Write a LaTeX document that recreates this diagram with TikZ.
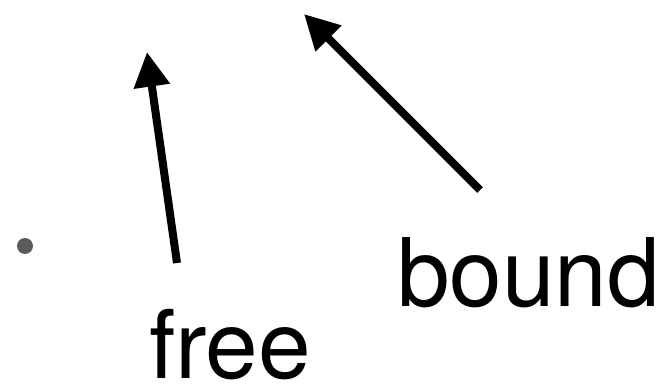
\documentclass[tikz,border=0pt]{standalone}
\usepackage{fontspec}
\setmainfont{TeX Gyre Heros}
\usetikzlibrary{arrows.meta}
\definecolor{bulletgray}{HTML}{5A5A5A}
\tikzset{
  label/.style={inner sep=0pt, outer sep=0pt, anchor=base west, font=\fontsize{71}{85}\selectfont},
  bigarrow/.style={line width=6pt, -{Triangle[length=26pt,width=26pt]}},
  dot/.style={circle, fill=bulletgray, draw=none, minimum size=12pt, inner sep=0pt}
}
\begin{document}
\begin{tikzpicture}[x=0.75pt, y=-0.75pt]
\useasboundingbox (0,0) rectangle (668,384);
\node[dot] (bullet) at (25,246) {};
\node[label] (free) at (149,379) {free};
\node[label] (bound) at (397,307) {bound};
\coordinate (a1tail) at (177,263);
\coordinate (a1tip) at (147,52);
\coordinate (a2tail) at (480,190);
\coordinate (a2tip) at (304,14);
\draw[bigarrow] (a1tail) -- (a1tip);
\draw[bigarrow] (a2tail) -- (a2tip);
\end{tikzpicture}
\end{document}
